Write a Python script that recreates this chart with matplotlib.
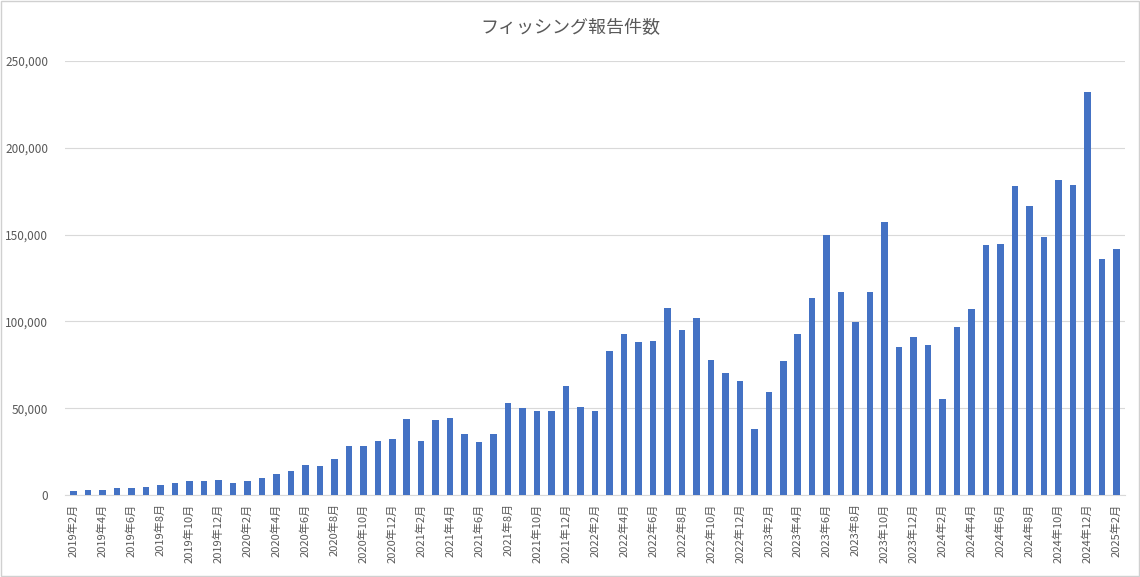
import matplotlib
matplotlib.use("Agg")
import matplotlib.pyplot as plt
from matplotlib.ticker import FuncFormatter

plt.rcParams["font.family"] = ["Noto Sans CJK JP"]

# monthly counts, 2019-02 .. 2025-02
start_year, start_month = 2019, 2
counts = [
    2500, 2900, 3000, 3800, 4300, 4600, 5800, 6800, 8000, 8000, 8500,
    7000, 8000, 10000, 12000, 14000, 17000, 16500, 21000, 28500, 28500, 31000, 32000,
    44000, 31000, 43000, 44500, 35000, 30500, 35000, 53000, 50000, 48500, 48500, 63000,
    50500, 48500, 83000, 92500, 88000, 88500, 108000, 95000, 102000, 78000, 70000, 65500,
    38000, 59500, 77000, 93000, 113500, 149500, 117000, 99500, 117000, 157000, 85000, 91000,
    86500, 55500, 97000, 107000, 144000, 144500, 178000, 166500, 148500, 181500, 178500, 232000,
    136000, 141500,
]
title = "フィッシング報告件数"

labels = []
y, m = start_year, start_month
for _ in counts:
    labels.append(f"{y}年{m}月")
    m += 1
    if m > 12:
        m = 1
        y += 1

fig = plt.figure(figsize=(11.4, 5.77), dpi=100)
ax = fig.add_axes([65 / 1140, 1 - 495 / 577, 1060 / 1140, 434 / 577])
x = range(len(counts))
ax.bar(x, counts, width=0.45, color="#4472c4", zorder=3)
ax.set_xlim(-0.6, len(counts) - 0.4)
ax.set_ylim(0, 250000)
ax.set_yticks(range(0, 250001, 50000))
ax.yaxis.set_major_formatter(FuncFormatter(lambda v, p: f"{int(v):,}"))
ax.grid(axis="y", color="#d9d9d9", lw=0.8, zorder=0)
ax.set_xticks(list(x)[::2])
ax.set_xticklabels(labels[::2], rotation=90, fontsize=8, color="#595959")
ax.tick_params(axis="y", length=0, labelsize=8.5, labelcolor="#595959", pad=12)
ax.tick_params(axis="x", length=0, pad=6)
for s in ["top", "right", "left"]:
    ax.spines[s].set_visible(False)
ax.spines["bottom"].set_color("#d9d9d9")
fig.text(0.5, 1 - 28 / 577, title, ha="center", va="center", fontsize=13, color="#595959")
fig.patches.append(plt.Rectangle((0.001, 0.001), 0.998, 0.998, transform=fig.transFigure,
                                 fill=False, ec="#d0d0d0", lw=1))
fig.savefig("out.png", dpi=100)
